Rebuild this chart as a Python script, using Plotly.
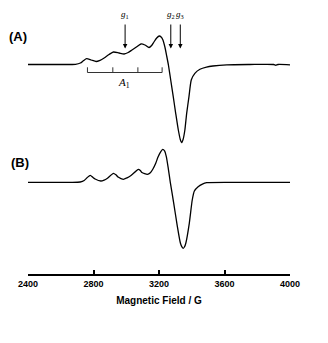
import plotly.graph_objects as go

# ---- data ----
field_A = [2400, 2600, 2690, 2720, 2740, 2758, 2786, 2816, 2840, 2865, 2895, 2922, 2956, 2987,
           3012, 3035, 3062, 3090, 3114, 3139, 3155, 3169, 3186, 3202, 3213, 3224, 3236,
           3247, 3258, 3272, 3287, 3302, 3318, 3330, 3338, 3347, 3358, 3369, 3383, 3397,
           3419, 3450, 3490, 3529, 3614, 3754, 3900, 3913, 3926, 4000]
signal_A = [0, 0, 0.2, 1.5, 4, 5.8, 4.5, 3, 4.2, 6.5, 10, 12.5, 11.5, 10.5,
            12, 14.5, 17.5, 20.5, 19.5, 17, 19, 22.5, 26.5, 28.5, 27.5, 24.5, 17.5,
            8.5, -1, -16, -32.2, -48.8, -65.5, -75, -78.2, -75, -65.5, -48.8, -32.2, -15.5,
            -8.8, -4.8, -2.6, -1.5, -0.3, 0, 0, -0.8, 0, -0.3]

field_B = [2400, 2658, 2719, 2743, 2762, 2780, 2796, 2810, 2845, 2865, 2883, 2922, 2937, 2950,
           2982, 3005, 3029, 3074, 3086, 3096, 3129, 3147, 3163, 3180, 3194, 3210, 3223, 3234,
           3245, 3257, 3269, 3290, 3311, 3331, 3340, 3348, 3356, 3364, 3385, 3403, 3416,
           3439, 3465, 3491, 3633, 4000]
signal_B = [0, 0, 0.3, 1.8, 4.8, 7, 5, 3.3, 1.3, 2.2, 3.8, 9, 7.5, 5.3,
            3, 4.5, 6.8, 13, 11.8, 9.8, 8, 9.5, 13.3, 19, 25.3, 30.5, 33, 31.5,
            25.5, 13.5, 0, -21, -43, -61, -64.5, -66, -64.5, -60.7, -41, -17.7, -8.7,
            -4.4, -1.8, -0.4, 0, 0]

g_labels = ["1", "2", "3"]
g_fields = [2993, 3272, 3330]
A1_ticks = [2763, 2918, 3071, 3219]
tick_vals = [2400, 2800, 3200, 3600, 4000]
tick_text = ["2400", "2800", "3200", "3600", "4000"]

# ---- layout constants (vertical placement in plot units = -pixels) ----
base_A = -64.5
base_B = -182.3

fig = go.Figure()
for fx, sg, base in [(field_A, signal_A, base_A), (field_B, signal_B, base_B)]:
    fig.add_trace(go.Scatter(x=fx, y=[base + v for v in sg], mode="lines",
                             line=dict(color="black", width=1.3, shape="spline", smoothing=0.6),
                             hoverinfo="skip", showlegend=False))

annotations = []
for lab, gf in zip(g_labels, g_fields):
    annotations.append(dict(x=gf, y=-48.5, ax=gf, ay=-23, xref="x", yref="y",
                            axref="x", ayref="y", text="", showarrow=True,
                            arrowhead=2, arrowsize=0.9, arrowwidth=1, arrowcolor="black",
                            standoff=0, startstandoff=0))
    annotations.append(dict(x=gf, y=-14, xref="x", yref="y", showarrow=False,
                            text="<i>g</i><sub>" + lab + "</sub>", xanchor="center",
                            yanchor="middle",
                            font=dict(family="Liberation Serif", size=9, color="black")))

annotations.append(dict(x=(A1_ticks[1] + A1_ticks[2]) / 2 - 10, y=-83, xref="x", yref="y",
                        showarrow=False, text="<i>A</i><sub>1</sub>",
                        font=dict(family="Liberation Serif", size=11, color="black")))

def px_to_paper(px, py):
    return (px - 28) / 262, 1 - py / 274

for txt, (px, py) in [("<b>(A)</b>", (18, 36)), ("<b>(B)</b>", (20, 162.5))]:
    xp, yp = px_to_paper(px, py)
    annotations.append(dict(x=xp, y=yp, xref="paper", yref="paper", showarrow=False,
                            text=txt, xanchor="center", yanchor="middle",
                            font=dict(family="Liberation Sans", size=13, color="black")))

shapes = [dict(type="line", x0=A1_ticks[0], x1=A1_ticks[-1], y0=-72.5, y1=-72.5,
               xref="x", yref="y", line=dict(color="#333", width=1))]
for t in A1_ticks:
    shapes.append(dict(type="line", x0=t, x1=t, y0=-72.5, y1=-67.3, xref="x", yref="y",
                       line=dict(color="#333", width=1)))

fig.update_layout(
    width=328, height=343,
    margin=dict(l=28, r=38, t=0, b=69),
    paper_bgcolor="white", plot_bgcolor="white",
    showlegend=False,
    xaxis=dict(range=[2400, 4000], showgrid=False, zeroline=False,
               showline=True, linecolor="black", linewidth=2,
               ticks="inside", ticklen=4, tickwidth=1.5, tickcolor="black",
               tickvals=tick_vals, ticktext=["<b>" + t + "</b>" for t in tick_text],
               tickfont=dict(family="Liberation Sans", size=9, color="black"),
               title=dict(text="<b>Magnetic Field / G</b>", standoff=9,
                          font=dict(family="Liberation Sans", size=10, color="black"))),
    yaxis=dict(range=[-274, 0], visible=False),
    shapes=shapes,
    annotations=annotations,
)

fig.write_html("out.html")
